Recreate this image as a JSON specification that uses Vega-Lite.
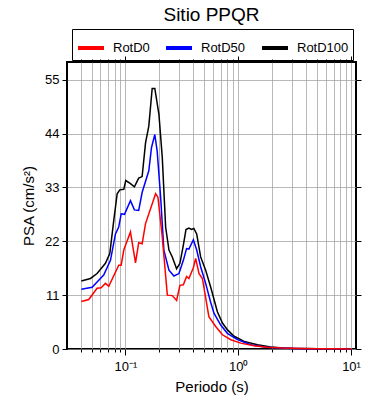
{
  "$schema": "https://vega.github.io/schema/vega-lite/v6.json",
  "width": 289,
  "height": 287,
  "padding": {"left": 21, "top": 5, "right": 5, "bottom": 5},
  "title": {"text": "Sitio PPQR", "fontSize": 19, "fontWeight": "normal", "font": "Liberation Sans", "color": "black", "offset": 4},
  "config": {
    "font": "Liberation Sans",
    "view": {"stroke": "black", "strokeWidth": 2},
    "axis": {"labelFont": "Liberation Sans", "titleFont": "Liberation Sans", "labelColor": "black", "titleColor": "black", "titleFontWeight": "normal", "labelFontSize": 13, "titleFontSize": 15, "gridColor": "#9a9a9a", "gridWidth": 0.7, "gridOpacity": 1, "domain": false, "tickColor": "black", "tickWidth": 1}
  },
  "data": {"values": [
    {"T": 0.0406, "s": "RotD100", "v": 13.9},
    {"T": 0.0489, "s": "RotD100", "v": 14.4},
    {"T": 0.056, "s": "RotD100", "v": 15.4},
    {"T": 0.0664, "s": "RotD100", "v": 17.5},
    {"T": 0.0726, "s": "RotD100", "v": 19.5},
    {"T": 0.0787, "s": "RotD100", "v": 26.2},
    {"T": 0.0844, "s": "RotD100", "v": 31.7},
    {"T": 0.089, "s": "RotD100", "v": 32.5},
    {"T": 0.0966, "s": "RotD100", "v": 32.6},
    {"T": 0.1006, "s": "RotD100", "v": 34.4},
    {"T": 0.11, "s": "RotD100", "v": 33.8},
    {"T": 0.12, "s": "RotD100", "v": 33.1},
    {"T": 0.131, "s": "RotD100", "v": 34.9},
    {"T": 0.1405, "s": "RotD100", "v": 35.2},
    {"T": 0.1506, "s": "RotD100", "v": 42.1},
    {"T": 0.161, "s": "RotD100", "v": 45.5},
    {"T": 0.1725, "s": "RotD100", "v": 53.2},
    {"T": 0.182, "s": "RotD100", "v": 53.2},
    {"T": 0.198, "s": "RotD100", "v": 47.9},
    {"T": 0.212, "s": "RotD100", "v": 39.1},
    {"T": 0.227, "s": "RotD100", "v": 24.9},
    {"T": 0.243, "s": "RotD100", "v": 20.2},
    {"T": 0.26, "s": "RotD100", "v": 18.8},
    {"T": 0.284, "s": "RotD100", "v": 16.4},
    {"T": 0.304, "s": "RotD100", "v": 17.5},
    {"T": 0.326, "s": "RotD100", "v": 21.2},
    {"T": 0.344, "s": "RotD100", "v": 24.4},
    {"T": 0.365, "s": "RotD100", "v": 24.7},
    {"T": 0.385, "s": "RotD100", "v": 24.4},
    {"T": 0.404, "s": "RotD100", "v": 24.6},
    {"T": 0.428, "s": "RotD100", "v": 23.5},
    {"T": 0.464, "s": "RotD100", "v": 18.8},
    {"T": 0.514, "s": "RotD100", "v": 16.1},
    {"T": 0.57, "s": "RotD100", "v": 12.6},
    {"T": 0.653, "s": "RotD100", "v": 7.6},
    {"T": 0.724, "s": "RotD100", "v": 5.3},
    {"T": 0.803, "s": "RotD100", "v": 3.9},
    {"T": 0.919, "s": "RotD100", "v": 2.6},
    {"T": 1.128, "s": "RotD100", "v": 1.56},
    {"T": 1.48, "s": "RotD100", "v": 0.88},
    {"T": 1.94, "s": "RotD100", "v": 0.41},
    {"T": 2.5, "s": "RotD100", "v": 0.22},
    {"T": 3.0, "s": "RotD100", "v": 0.14},
    {"T": 4.0, "s": "RotD100", "v": 0.08},
    {"T": 5.0, "s": "RotD100", "v": 0.05},
    {"T": 7.0, "s": "RotD100", "v": 0.03},
    {"T": 10.0, "s": "RotD100", "v": 0.02},

    {"T": 0.0406, "s": "RotD50", "v": 12.2},
    {"T": 0.0506, "s": "RotD50", "v": 12.6},
    {"T": 0.056, "s": "RotD50", "v": 13.7},
    {"T": 0.0641, "s": "RotD50", "v": 15.1},
    {"T": 0.0736, "s": "RotD50", "v": 18.1},
    {"T": 0.0815, "s": "RotD50", "v": 23.5},
    {"T": 0.0871, "s": "RotD50", "v": 24.9},
    {"T": 0.0916, "s": "RotD50", "v": 27.6},
    {"T": 0.098, "s": "RotD50", "v": 27.5},
    {"T": 0.1107, "s": "RotD50", "v": 30.3},
    {"T": 0.12, "s": "RotD50", "v": 28.4},
    {"T": 0.131, "s": "RotD50", "v": 28.3},
    {"T": 0.1406, "s": "RotD50", "v": 32.0},
    {"T": 0.161, "s": "RotD50", "v": 36.4},
    {"T": 0.17, "s": "RotD50", "v": 41.1},
    {"T": 0.182, "s": "RotD50", "v": 43.8},
    {"T": 0.191, "s": "RotD50", "v": 40.4},
    {"T": 0.205, "s": "RotD50", "v": 31.0},
    {"T": 0.219, "s": "RotD50", "v": 20.2},
    {"T": 0.243, "s": "RotD50", "v": 16.1},
    {"T": 0.269, "s": "RotD50", "v": 14.9},
    {"T": 0.298, "s": "RotD50", "v": 15.4},
    {"T": 0.326, "s": "RotD50", "v": 18.1},
    {"T": 0.348, "s": "RotD50", "v": 20.5},
    {"T": 0.365, "s": "RotD50", "v": 20.4},
    {"T": 0.4, "s": "RotD50", "v": 22.3},
    {"T": 0.428, "s": "RotD50", "v": 20.2},
    {"T": 0.464, "s": "RotD50", "v": 16.8},
    {"T": 0.514, "s": "RotD50", "v": 13.4},
    {"T": 0.57, "s": "RotD50", "v": 9.5},
    {"T": 0.609, "s": "RotD50", "v": 7.3},
    {"T": 0.699, "s": "RotD50", "v": 4.9},
    {"T": 0.801, "s": "RotD50", "v": 3.2},
    {"T": 0.984, "s": "RotD50", "v": 1.9},
    {"T": 1.29, "s": "RotD50", "v": 0.88},
    {"T": 1.7, "s": "RotD50", "v": 0.4},
    {"T": 2.3, "s": "RotD50", "v": 0.2},
    {"T": 3.0, "s": "RotD50", "v": 0.12},
    {"T": 4.0, "s": "RotD50", "v": 0.07},
    {"T": 5.0, "s": "RotD50", "v": 0.045},
    {"T": 7.0, "s": "RotD50", "v": 0.03},
    {"T": 10.0, "s": "RotD50", "v": 0.015},

    {"T": 0.0406, "s": "RotD0", "v": 9.7},
    {"T": 0.0472, "s": "RotD0", "v": 10.1},
    {"T": 0.056, "s": "RotD0", "v": 12.4},
    {"T": 0.0608, "s": "RotD0", "v": 12.5},
    {"T": 0.0664, "s": "RotD0", "v": 13.4},
    {"T": 0.0711, "s": "RotD0", "v": 12.8},
    {"T": 0.0871, "s": "RotD0", "v": 17.1},
    {"T": 0.0916, "s": "RotD0", "v": 17.1},
    {"T": 0.0966, "s": "RotD0", "v": 20.2},
    {"T": 0.1107, "s": "RotD0", "v": 23.9},
    {"T": 0.1227, "s": "RotD0", "v": 17.6},
    {"T": 0.131, "s": "RotD0", "v": 21.7},
    {"T": 0.1406, "s": "RotD0", "v": 21.5},
    {"T": 0.1506, "s": "RotD0", "v": 25.6},
    {"T": 0.185, "s": "RotD0", "v": 31.7},
    {"T": 0.194, "s": "RotD0", "v": 31.0},
    {"T": 0.212, "s": "RotD0", "v": 22.9},
    {"T": 0.235, "s": "RotD0", "v": 11.0},
    {"T": 0.26, "s": "RotD0", "v": 10.9},
    {"T": 0.284, "s": "RotD0", "v": 9.9},
    {"T": 0.304, "s": "RotD0", "v": 13.0},
    {"T": 0.326, "s": "RotD0", "v": 13.1},
    {"T": 0.348, "s": "RotD0", "v": 14.8},
    {"T": 0.365, "s": "RotD0", "v": 14.4},
    {"T": 0.4, "s": "RotD0", "v": 16.6},
    {"T": 0.419, "s": "RotD0", "v": 18.5},
    {"T": 0.449, "s": "RotD0", "v": 15.4},
    {"T": 0.481, "s": "RotD0", "v": 14.4},
    {"T": 0.549, "s": "RotD0", "v": 6.6},
    {"T": 0.631, "s": "RotD0", "v": 4.6},
    {"T": 0.724, "s": "RotD0", "v": 2.9},
    {"T": 0.858, "s": "RotD0", "v": 1.9},
    {"T": 1.052, "s": "RotD0", "v": 1.2},
    {"T": 1.38, "s": "RotD0", "v": 0.68},
    {"T": 1.8, "s": "RotD0", "v": 0.35},
    {"T": 2.5, "s": "RotD0", "v": 0.18},
    {"T": 3.5, "s": "RotD0", "v": 0.1},
    {"T": 5.0, "s": "RotD0", "v": 0.05},
    {"T": 7.0, "s": "RotD0", "v": 0.03},
    {"T": 10.0, "s": "RotD0", "v": 0.02}
  ]},
  "layer": [
    {
      "mark": {"type": "line", "opacity": 0},
      "encoding": {
        "x": {"field": "T", "type": "quantitative", "scale": {"type": "log", "domain": [0.0303, 11.07], "nice": false},
          "axis": {"orient": "top", "labels": false, "title": null, "grid": false, "values": [0.04,0.05,0.06,0.07,0.08,0.09,0.1,0.2,0.3,0.4,0.5,0.6,0.7,0.8,0.9,1,2,3,4,5,6,7,8,9,10],
            "tickSize": {"condition": {"test": "abs(log(datum.value)/LN10 - round(log(datum.value)/LN10)) < 0.001", "value": 6}, "value": 3}}},
        "y": {"field": "v", "type": "quantitative", "scale": {"domain": [0, 58.6], "nice": false},
          "axis": {"orient": "right", "labels": false, "title": null, "grid": false, "values": [0, 11, 22, 33, 44, 55], "tickSize": 5}}
      }
    },
    {
      "mark": {"type": "line", "strokeWidth": 1.5},
      "encoding": {
        "x": {"field": "T", "type": "quantitative", "scale": {"type": "log", "domain": [0.0303, 11.07], "nice": false},
          "axis": {"orient": "bottom", "grid": true, "title": "Periodo (s)", "values": [0.04,0.05,0.06,0.07,0.08,0.09,0.1,0.2,0.3,0.4,0.5,0.6,0.7,0.8,0.9,1,2,3,4,5,6,7,8,9,10],
            "labelExpr": "datum.value == 0.1 ? '10⁻¹' : datum.value == 1 ? '10⁰' : datum.value == 10 ? '10¹' : ''",
            "labelPadding": 5, "titlePadding": 6,
            "tickSize": {"condition": {"test": "abs(log(datum.value)/LN10 - round(log(datum.value)/LN10)) < 0.001", "value": 6}, "value": 3}}},
        "y": {"field": "v", "type": "quantitative", "scale": {"domain": [0, 58.6], "nice": false},
          "axis": {"orient": "left", "grid": true, "title": "PSA (cm/s²)", "values": [0, 11, 22, 33, 44, 55], "tickSize": 5, "labelPadding": 3, "titlePadding": 8}},
        "color": {"field": "s", "type": "nominal", "sort": ["RotD0", "RotD50", "RotD100"],
          "scale": {"domain": ["RotD0", "RotD50", "RotD100"], "range": ["#ff0000", "#0000ff", "#000000"]},
          "legend": {"orient": "none", "legendX": 5, "legendY": -33, "direction": "horizontal", "title": null, "symbolType": "stroke", "symbolSize": 676, "symbolStrokeWidth": 4, "labelFontSize": 13, "labelFont": "Liberation Sans", "labelColor": "black", "strokeColor": "black", "padding": 4, "columnPadding": 8, "labelOffset": 7}}
      }
    }
  ],
  "resolve": {"axis": {"x": "independent", "y": "independent"}}
}
